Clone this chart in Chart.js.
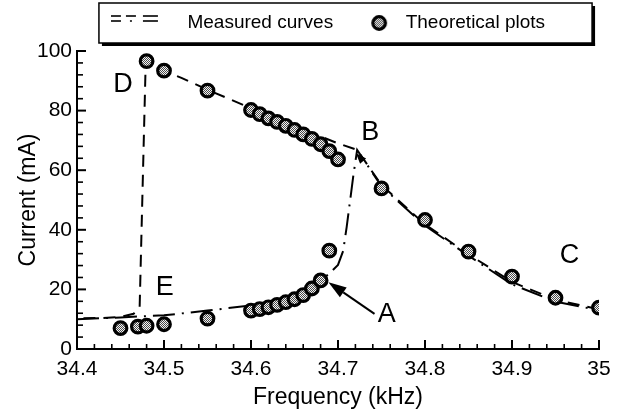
<!DOCTYPE html>
<html><head><meta charset="utf-8">
<script src="https://cdn.jsdelivr.net/npm/chart.js@4/dist/chart.umd.min.js"></script>
<style>html,body{margin:0;padding:0;background:#fff;}#wrap{width:622px;height:414px;position:relative;}</style>
</head><body><div id="wrap"><canvas id="c" width="622" height="414"></canvas></div>
<script>
// ---- data ----
const theoryFreq = [34.45,34.47,34.48,34.50,34.55,34.60,34.61,34.62,34.63,34.64,34.65,34.66,34.67,34.68,34.69,
  34.48,34.50,34.55,34.60,34.61,34.62,34.63,34.64,34.65,34.66,34.67,34.68,34.69,34.70,
  34.75,34.80,34.85,34.90,34.95,35.00];
const theoryCurrent = [7.0,7.5,7.8,8.3,10.2,12.9,13.4,14.0,14.8,15.7,16.7,18.1,20.3,23.0,33.0,
  96.6,93.4,86.7,80.2,78.8,77.4,76.2,74.9,73.5,72.0,70.5,68.7,66.4,63.6,
  53.9,43.3,32.7,24.3,17.2,13.9];
const downFreq = [35.00,34.95,34.90,34.85,34.80,34.75,34.722,34.70,34.65,34.60,34.55,34.52,34.50,34.485,34.479,34.472,34.465,34.45,34.43,34.40];
const downCurrent = [13.3,16.5,22.5,31.8,41.8,55.0,66.8,69.0,74.8,80.8,87.0,91.0,93.3,95.6,96.5,14.0,11.8,10.8,10.4,10.3];
const upFreq = [34.40,34.45,34.50,34.55,34.60,34.64,34.67,34.69,34.70,34.706,34.71,34.714,34.718,34.722,34.75,34.80,34.85,34.90,34.95,35.00];
const upCurrent = [10.0,10.6,11.3,12.9,14.6,16.8,20.5,25.3,28.2,33.0,41.0,50.0,59.0,66.8,54.6,41.4,31.3,21.7,15.9,13.0];
const xTickValues = [34.4,34.5,34.6,34.7,34.8,34.9,35];
const xTickLabels = ['34.4','34.5','34.6','34.7','34.8','34.9','35'];
const yTickValues = [0,20,40,60,80,100];
const yTickLabels = ['0','20','40','60','80','100'];
const noteLabels = ['D','B','E','C','A'];
const noteFreq = [34.453,34.737,34.501,34.966,34.756];
const noteCurrent = [88.9,72.5,20.6,31.2,11.4];
const seriesNames = ['Measured curves','Theoretical plots'];

const FONT = "'Liberation Sans',Arial,sans-serif";
const zip = (xs, ys) => xs.map((x, i) => ({x, y: ys[i]}));

function makePattern(ctx) {
  const c = document.createElement('canvas'); c.width = 2; c.height = 2;
  const g = c.getContext('2d');
  g.fillStyle = '#f4f4f4'; g.fillRect(0, 0, 2, 2);
  g.fillStyle = '#4a4a4a'; g.fillRect(0, 0, 1, 1); g.fillRect(1, 1, 1, 1);
  return ctx.createPattern(c, 'repeat');
}
const mainCtx = document.getElementById('c').getContext('2d');
const dotFill = makePattern(mainCtx);

// legend sample images
const BOXW = 47;
function lineSample() {
  const c = document.createElement('canvas'); c.width = BOXW + 40; c.height = 22;
  const g = c.getContext('2d');
  g.strokeStyle = '#000'; g.lineWidth = 1.6;
  const seg = (a, b, y) => { g.beginPath(); g.moveTo(a, y); g.lineTo(b, y); g.stroke(); };
  seg(0, 10, 4); seg(15, 25, 4); seg(32, 47, 4);
  seg(0, 10, 9); seg(19, 21, 9); seg(32, 47, 9);
  return c;
}
function circleSample() {
  const c = document.createElement('canvas'); c.width = BOXW; c.height = 22;
  const g = c.getContext('2d');
  g.beginPath(); g.arc(30, 11, 6.3, 0, Math.PI * 2);
  g.fillStyle = makePattern(g); g.fill();
  g.lineWidth = 3.2; g.strokeStyle = '#000'; g.stroke();
  return c;
}
const sampleA = lineSample(), sampleB = circleSample();

const overlay = {
  id: 'overlay',
  afterInit(chart) {
    const lg = chart.legend; const fit = lg.fit;
    lg.fit = function () { fit.call(this); this.height += 6; };
  },
  afterLayout(chart) {
    chart.legend.top -= 2.5; chart.legend.bottom -= 2.5;
  },
  afterDraw(chart) {
    const ctx = chart.ctx, xs = chart.scales.x, ys = chart.scales.y;
    const a = chart.chartArea;
    ctx.save();
    ctx.strokeStyle = '#000'; ctx.fillStyle = '#000'; ctx.lineCap = 'butt';
    // inward tick marks
    for (let i = 0; i <= 30; i++) {
      const px = xs.getPixelForValue((3440 + 2 * i) / 100);
      const len = i % 5 === 0 ? 9 : 5;
      ctx.lineWidth = i % 5 === 0 ? 2 : 1.6;
      ctx.beginPath(); ctx.moveTo(px, a.bottom); ctx.lineTo(px, a.bottom - len); ctx.stroke();
    }
    for (let i = 0; i <= 25; i++) {
      const py = ys.getPixelForValue(4 * i);
      const len = i % 5 === 0 ? 9 : 6;
      ctx.lineWidth = i % 5 === 0 ? 2 : 1.6;
      ctx.beginPath(); ctx.moveTo(a.left, py); ctx.lineTo(a.left + len, py); ctx.stroke();
    }
    // legend frame with shadow
    const hb = chart.legend.legendHitBoxes;
    if (hb && hb.length > 1) {
      const L = hb[0].left - 32, R = hb[1].left + hb[1].width + 47, T = 3, B = 43;
      ctx.lineWidth = 1.5; ctx.strokeRect(L, T, R - L, B - T);
      ctx.fillRect(L + 3, B, R - L, 3);
      ctx.fillRect(R, T + 3, 3, B - T);
    }
    // letters
    ctx.font = '27px ' + FONT; ctx.textAlign = 'center'; ctx.textBaseline = 'middle';
    noteLabels.forEach((t, i) => ctx.fillText(t, xs.getPixelForValue(noteFreq[i]), ys.getPixelForValue(noteCurrent[i])));
    // arrows
    const arrow = (x1, y1, x2, y2, hl, hw, line) => {
      const X1 = xs.getPixelForValue(x1), Y1 = ys.getPixelForValue(y1);
      const X2 = xs.getPixelForValue(x2), Y2 = ys.getPixelForValue(y2);
      const ang = Math.atan2(Y2 - Y1, X2 - X1);
      const bx = X2 - hl * Math.cos(ang), by = Y2 - hl * Math.sin(ang);
      if (line) { ctx.lineWidth = 2; ctx.beginPath(); ctx.moveTo(X1, Y1); ctx.lineTo(bx, by); ctx.stroke(); }
      ctx.beginPath(); ctx.moveTo(X2, Y2);
      ctx.lineTo(bx + hw / 2 * Math.sin(ang), by - hw / 2 * Math.cos(ang));
      ctx.lineTo(bx - hw / 2 * Math.sin(ang), by + hw / 2 * Math.cos(ang));
      ctx.closePath(); ctx.fill();
    };
    arrow(34.742, 11.8, 34.689, 22.4, 18, 12, true);
    arrow(34.735, 61.0, 34.7205, 65.8, 11, 8, false);
    ctx.restore();
  }
};

new Chart(mainCtx, {
  type: 'scatter',
  data: {
    datasets: [
      { label: seriesNames[1], data: zip(theoryFreq, theoryCurrent), order: 0,
        pointRadius: 6.3, pointBorderWidth: 3.2, pointBorderColor: '#000', pointBackgroundColor: dotFill, showLine: false },
      { label: seriesNames[0], data: zip(downFreq, downCurrent), order: 1, showLine: true, tension: 0,
        borderColor: '#000', borderWidth: 2, borderDash: [12, 8], pointRadius: 0, fill: false },
      { label: seriesNames[0] + ' (up)', data: zip(upFreq, upCurrent), order: 2, showLine: true, tension: 0,
        borderColor: '#000', borderWidth: 2, borderDash: [22, 7, 2, 7], pointRadius: 0, fill: false }
    ]
  },
  options: {
    responsive: false, animation: false, events: [],
    layout: { padding: { top: 0, left: 0, right: 23, bottom: 0 } },
    plugins: {
      tooltip: { enabled: false },
      legend: {
        position: 'top', fullSize: false,
        labels: {
          usePointStyle: true, pointStyleWidth: BOXW, padding: 16, color: '#000',
          font: { family: FONT, size: 19 },
          generateLabels: () => [
            { text: seriesNames[0], pointStyle: sampleA, fillStyle: 'rgba(0,0,0,0)', strokeStyle: 'rgba(0,0,0,0)', lineWidth: 0, hidden: false, datasetIndex: 1 },
            { text: seriesNames[1], pointStyle: sampleB, fillStyle: 'rgba(0,0,0,0)', strokeStyle: 'rgba(0,0,0,0)', lineWidth: 0, hidden: false, datasetIndex: 0 }
          ]
        }
      }
    },
    scales: {
      x: {
        type: 'linear', min: 34.4, max: 35,
        afterBuildTicks: s => { s.ticks = xTickValues.map(v => ({ value: v })); },
        afterFit: s => { s.height = 65; },
        grid: { display: false, drawTicks: false },
        border: { display: true, color: '#000', width: 2 },
        ticks: { autoSkip: false, maxRotation: 0, padding: 8, color: '#000', font: { family: FONT, size: 21 },
                 callback: (v, i) => xTickLabels[i] },
        title: { display: true, text: 'Frequency (kHz)', color: '#000', font: { family: FONT, size: 23 }, padding: { top: 0, bottom: 3 } }
      },
      y: {
        type: 'linear', min: 0, max: 100,
        afterBuildTicks: s => { s.ticks = yTickValues.map(v => ({ value: v })); },
        afterFit: s => { s.width = 77; },
        grid: { display: false, drawTicks: false },
        border: { display: true, color: '#000', width: 2 },
        ticks: { autoSkip: false, padding: 5, color: '#000', font: { family: FONT, size: 21 },
                 callback: (v, i) => yTickLabels[i] },
        title: { display: true, text: 'Current (mA)', color: '#000', font: { family: FONT, size: 23 }, padding: { top: 15, bottom: 0 } }
      }
    }
  },
  plugins: [overlay]
});
</script></body></html>
